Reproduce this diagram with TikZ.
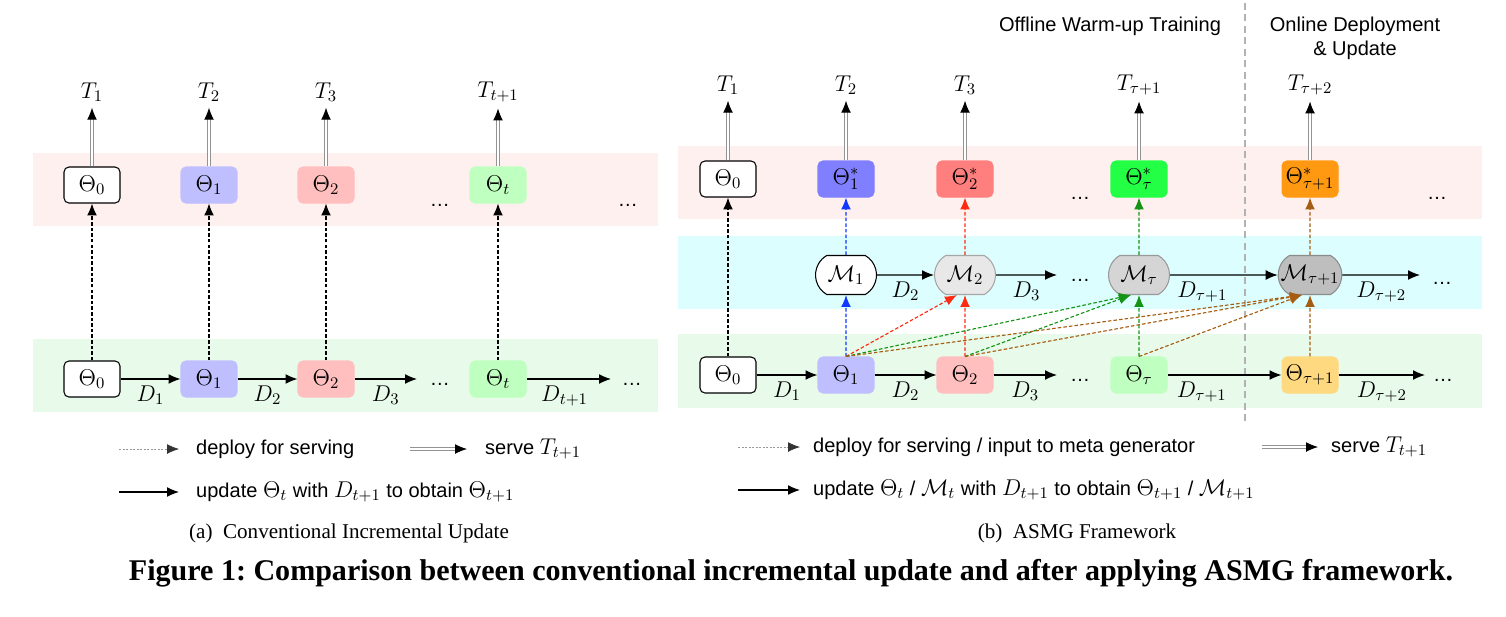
\documentclass[tikz,border=0pt]{standalone}
\usepackage{fix-cm}
\usepackage[no-math]{fontspec}
\setmainfont{Liberation Serif}
\setsansfont{Liberation Sans}
\DeclareMathSizes{11.4}{13}{9.2}{7}
\usetikzlibrary{arrows.meta, shapes.misc}

\definecolor{bandred}{HTML}{FFF0F0}
\definecolor{bandcyan}{HTML}{DDFEFE}
\definecolor{bandgreen}{HTML}{E8FBEA}
\definecolor{thblue}{HTML}{BFBFFF}
\definecolor{thred}{HTML}{FFBFBF}
\definecolor{thgreen}{HTML}{BFFFBF}
\definecolor{thorange}{HTML}{FFD97F}
\definecolor{stblue}{HTML}{7F7FFF}
\definecolor{stred}{HTML}{FF7F7F}
\definecolor{stgreen}{HTML}{22FF44}
\definecolor{storange}{HTML}{FF9912}
\definecolor{mgA}{HTML}{E8E8E8}
\definecolor{mgB}{HTML}{D5D5D5}
\definecolor{mgC}{HTML}{BEBEBE}
\definecolor{arblue}{HTML}{1038FF}
\definecolor{arred}{HTML}{FF2A10}
\definecolor{argreen}{HTML}{149414}
\definecolor{arbrown}{HTML}{A65D12}

\begin{document}
\begin{tikzpicture}[
    x=0.02cm, y=-0.02cm,
    font=\sffamily\fontsize{11.4}{13.6}\selectfont,
    model/.style={rounded corners=2.8pt, minimum width=1.12cm, minimum height=0.72cm, inner sep=0pt, line width=0.6pt},
    gen/.style={rounded rectangle, rounded rectangle arc length=120, minimum width=1.22cm, minimum height=0.78cm, inner sep=0pt, line width=0.6pt},
    upd/.style={line width=0.65pt, -{Latex[length=6.8pt,width=5.6pt]}},
    dep/.style={line width=0.65pt, dash pattern=on 2pt off 1.2pt, -{Latex[length=6.8pt,width=5.6pt]}},
    legdep/.style={gray!80, line width=0.4pt, dash pattern=on 1.2pt off 0.8pt, -{Latex[black!80,length=6.8pt,width=5.6pt]}},
    serve/.style={draw=gray!85, double=white, double distance=1.2pt, line width=0.5pt, -{Latex[black,length=6.8pt,width=5.6pt]}},
    divider/.style={gray!60, line width=1.1pt, dash pattern=on 4pt off 2.5pt},
    caption/.style={font=\rmfamily\frenchspacing\fontsize{12}{14}\selectfont}
]

\useasboundingbox (0,0) rectangle (1506,616);

% row heights
\def\ltop{185}
\def\lbot{379}
\def\rtop{179}
\def\rmid{275}
\def\rbot{375}

% =========================
% BANDS
% =========================
\fill[bandred]   (33,153) rectangle (658,226);
\fill[bandgreen] (33,339) rectangle (658,412);

\fill[bandred]   (678,146) rectangle (1482,219);
\fill[bandcyan]  (678,236) rectangle (1482,309);
\fill[bandgreen] (678,334) rectangle (1482,408);

% =========================
% (a) CONVENTIONAL UPDATE
% =========================
\foreach \i/\x/\s/\t/\c/\d in {0/92/0/1/white/black, 1/209/1/2/thblue/thblue,
                               2/326/2/3/thred/thred, 3/498/t/t+1/thgreen/thgreen}
{
    \node[model, fill=\c, draw=\d] (LT\i) at (\x,\ltop) {$\Theta_{\s}$};
    \node[model, fill=\c, draw=\d] (LB\i) at (\x,\lbot) {$\Theta_{\s}$};
    \node (LS\i) at (\x,92) {$T_{\t}$};
    \draw[serve] (LT\i) -- (LS\i);
    \draw[dep] (LB\i) -- (LT\i);
}

\node (LDa) at (440,205) {…};
\node (LDb) at (628,205) {…};
\node (LDc) at (440,384) {…};
\node (LDd) at (632,384) {…};

\coordinate (LE2) at (417,\lbot);
\coordinate (LE3) at (611,\lbot);

\draw[upd] (LB0) -- (LB1) node[midway,below] {$D_1$};
\draw[upd] (LB1) -- (LB2) node[midway,below] {$D_2$};
\draw[upd] (LB2) -- (LE2) node[midway,below] {$D_3$};
\draw[upd] (LB3) -- (LE3) node[pos=0.45,below] {$D_{t+1}$};

% =========================
% (b) ASMG FRAMEWORK
% =========================
\node (hOff) at (1110,26) {Offline Warm-up Training};
\node[align=center] (hOn) at (1355,38) {Online Deployment\\\& Update};
\draw[divider] (1245,3) -- (1245,422);

% served models
\node[model, fill=white, draw=black] (RT0) at (728,\rtop) {$\Theta_0$};
\foreach \i/\x/\s/\c in {1/846/1/stblue, 2/965/2/stred, 3/1139/\tau/stgreen, 4/1310/\tau+1/storange}
    \node[model, fill=\c, draw=\c] (RT\i) at (\x,\rtop) {$\Theta^{*}_{\s}$};

\foreach \i/\x/\t in {0/728/1, 1/846/2, 2/965/3, 3/1139/\tau+1, 4/1310/\tau+2}
{
    \node (RS\i) at (\x,85) {$T_{\t}$};
    \draw[serve] (RT\i) -- (RS\i);
}

% meta generators
\foreach \i/\x/\s/\c/\d in {1/846/1/white/black, 2/965/2/mgA/gray!70,
                            3/1139/\tau/mgB/gray!80, 4/1310/\tau+1/mgC/gray!90}
    \node[gen, fill=\c, draw=\d] (RM\i) at (\x,\rmid) {$\mathcal{M}_{\s}$};

% incrementally updated models
\foreach \i/\x/\s/\c/\d in {0/728/0/white/black, 1/846/1/thblue/thblue, 2/965/2/thred/thred,
                            3/1139/\tau/thgreen/thgreen, 4/1310/\tau+1/thorange/thorange}
    \node[model, fill=\c, draw=\d] (RB\i) at (\x,\rbot) {$\Theta_{\s}$};

\node (RDa) at (1080,198) {…};
\node (RDb) at (1437,198) {…};
\node (RDc) at (1080,280) {…};
\node (RDd) at (1442,283) {…};
\node (RDe) at (1080,380) {…};
\node (RDf) at (1443,380) {…};

% deploy / input arrows
\draw[dep] (RB0) -- (RT0);
\foreach \i/\c in {1/arblue, 2/arred, 3/argreen, 4/arbrown}
{
    \draw[dep, \c] (RB\i) -- (RM\i);
    \draw[dep, \c] (RM\i) -- (RT\i);
}
\draw[dep, arred] (RB1.north) -- (RM2.-112);
\foreach \j in {1,2}
    \draw[dep, argreen] (RB\j.north) -- (RM3.-112);
\foreach \j in {1,2,3}
    \draw[dep, arbrown] (RB\j.north) -- (RM4.-112);

% update arrows
\coordinate (RMe2) at (1057,\rmid);
\coordinate (RMe4) at (1420,\rmid);
\coordinate (RBe2) at (1057,\rbot);
\coordinate (RBe4) at (1425,\rbot);

\draw[upd] (RM1) -- (RM2) node[midway,below] {$D_2$};
\draw[upd] (RM2) -- (RMe2) node[midway,below] {$D_3$};
\draw[upd] (RM3) -- (RM4) node[pos=0.3,below] {$D_{\tau+1}$};
\draw[upd] (RM4) -- (RMe4) node[midway,below] {$D_{\tau+2}$};

\draw[upd] (RB0) -- (RB1) node[midway,below] {$D_1$};
\draw[upd] (RB1) -- (RB2) node[midway,below] {$D_2$};
\draw[upd] (RB2) -- (RBe2) node[midway,below] {$D_3$};
\draw[upd] (RB3) -- (RB4) node[pos=0.3,below] {$D_{\tau+1}$};
\draw[upd] (RB4) -- (RBe4) node[midway,below] {$D_{\tau+2}$};

% =========================
% LEGENDS
% =========================
\coordinate (LLa) at (119,449); \coordinate (LLb) at (179,449);
\coordinate (LLc) at (410,449); \coordinate (LLd) at (467,449);
\coordinate (LLe) at (119,492); \coordinate (LLf) at (179,492);
\draw[legdep] (LLa) -- (LLb);
\draw[serve] (LLc) -- (LLd);
\draw[upd] (LLe) -- (LLf);
\node[anchor=west] (LLt) at (190,449) {deploy for serving};
\node[anchor=west] (LLs) at (479,449) {serve $T_{t+1}$};
\node[anchor=west] (LLu) at (190,492) {update $\Theta_t$ with $D_{t+1}$ to obtain $\Theta_{t+1}$};

\coordinate (RLa) at (738,447); \coordinate (RLb) at (800,447);
\coordinate (RLc) at (1262,447); \coordinate (RLd) at (1318,447);
\coordinate (RLe) at (738,490); \coordinate (RLf) at (800,490);
\draw[legdep] (RLa) -- (RLb);
\draw[serve] (RLc) -- (RLd);
\draw[upd] (RLe) -- (RLf);
\node[anchor=west] (RLt) at (807,447) {deploy for serving / input to meta generator};
\node[anchor=west] (RLs) at (1325,447) {serve $T_{t+1}$};
\node[anchor=west] (RLu) at (807,490) {update $\Theta_t$ / $\mathcal{M}_t$ with $D_{t+1}$ to obtain $\Theta_{t+1}$ / $\mathcal{M}_{t+1}$};

% =========================
% CAPTIONS
% =========================
\node[caption] (capA) at (349,533) {(a)\enspace Conventional Incremental Update};
\node[caption] (capB) at (1077,533) {(b)\enspace ASMG Framework};
\node[caption, font=\rmfamily\frenchspacing\bfseries\fontsize{17.1}{19}\selectfont] (capF) at (791,573)
    {Figure 1: Comparison between conventional incremental update and after applying ASMG framework.};
\end{tikzpicture}
\end{document}
